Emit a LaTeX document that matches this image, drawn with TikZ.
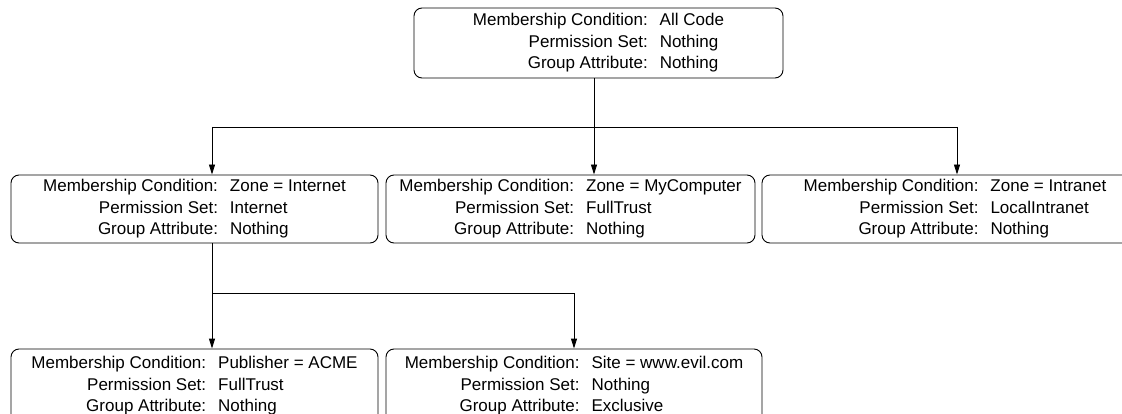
\documentclass[tikz,border=0pt]{standalone}
\usepackage{fontspec}
\setmainfont{Liberation Sans}
\usetikzlibrary{arrows.meta}

% one code group: membership condition, permission set, group attribute
\newcommand{\codegroup}[3]{\raisebox{-3.5pt}{\begin{tabular}{@{}r@{\hspace{12pt}}l@{}}
Membership Condition: & #1\\
Permission Set: & #2\\
Group Attribute: & #3
\end{tabular}}}

\tikzset{
  grp/.style={draw=black, rounded corners=8pt, line width=0.9pt, inner sep=0pt,
    font=\fontsize{17}{21.5}\selectfont},
  link/.style={draw=black, line width=0.9pt},
  arr/.style={link, -{Triangle[length=10pt,width=6pt]}}
}

\begin{document}
\begin{tikzpicture}[x=1pt, y=-1pt]
\useasboundingbox (0,0) rectangle (1122,414);
\clip (0,0) rectangle (1122,414);

% code groups
\node[grp, minimum width=369pt, minimum height=70pt] (all) at (598.5,43)
  {\codegroup{All Code}{Nothing}{Nothing}};
\node[grp, minimum width=367pt, minimum height=68pt] (inet) at (194.5,209)
  {\codegroup{Zone = Internet}{Internet}{Nothing}};
\node[grp, minimum width=369pt, minimum height=68pt] (mycomp) at (570.5,209)
  {\codegroup{Zone = MyComputer}{FullTrust}{Nothing}};
\node[grp, minimum width=386pt, minimum height=68pt] (intra) at (955,209)
  {\codegroup{Zone = Intranet}{LocalIntranet}{Nothing}};
\node[grp, minimum width=367pt, minimum height=74pt] (acme) at (194.5,386)
  {\codegroup{Publisher = ACME}{FullTrust}{Nothing}};
\node[grp, minimum width=376pt, minimum height=74pt] (evil) at (574,386)
  {\codegroup{Site = www.evil.com}{Nothing}{Exclusive}};

% junction points of the tree
\coordinate (jm) at (594,127);
\coordinate (jl) at (212,127);
\coordinate (jr) at (957,127);
\coordinate (kl) at (212,293);
\coordinate (kr) at (574,293);

% first level
\draw[link] (all.south -| jm) -- (jm);
\draw[link] (jl) -- (jr);
\draw[arr] (jm) -- (mycomp.north -| jm);
\draw[arr] (jl) -- (inet.north -| jl);
\draw[arr] (jr) -- (intra.north -| jr);

% second level
\draw[link] (inet.south -| kl) -- (kl) -- (kr);
\draw[arr] (kl) -- (acme.north -| kl);
\draw[arr] (kr) -- (evil.north -| kr);
\end{tikzpicture}
\end{document}
